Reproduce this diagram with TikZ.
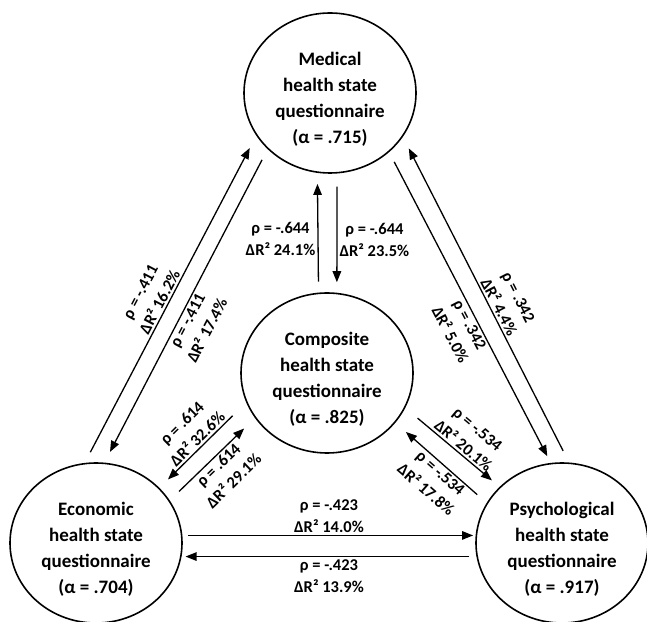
\documentclass[tikz,border=0pt]{standalone}
\usepackage{fontspec}
\setmainfont{Carlito}
\usetikzlibrary{shapes.geometric,arrows.meta}
\begin{document}
\begin{tikzpicture}[x=1pt, y=1pt,
  state/.style={draw=black, line width=1.6pt, ellipse, minimum width=172pt, minimum height=160pt,
       inner sep=0pt, align=center, font=\bfseries\fontsize{19}{26}\selectfont},
  link/.style={draw=black, line width=1.3pt, -{Triangle[length=11pt,width=8.5pt]}},
  stat/.style={align=center, inner sep=2pt, font=\bfseries\fontsize{16.5}{22}\selectfont}]
\useasboundingbox (0,0) rectangle (647,621);
\node[state] (med) at(330, 528) {\rule{0pt}{25pt}Medical\\health state\\questionnaire\\(α = .715)};
\node[state] (comp) at(327, 248) {\rule{0pt}{25pt}Composite\\health state\\questionnaire\\(α = .825)};
\node[state] (eco) at(96, 78) {\rule{0pt}{25pt}Economic\\health state\\questionnaire\\(α = .704)};
\node[state] (psy) at(562, 78) {\rule{0pt}{25pt}Psychological\\health state\\questionnaire\\(α = .917)};
\draw[link, shorten <=11pt, shorten >=11pt] (comp.96) -- (med.261) 
       node[stat, pos=.445, left] {ρ = -.644\\ΔR² 24.1\%};
\draw[link, shorten <=13pt, shorten >=10.5pt] (med.275) -- (comp.83) 
       node[stat, pos=.553, right] {ρ = -.644\\ΔR² 23.5\%};
\draw[link, shorten <=12pt, shorten >=14pt] (eco.98) -- (med.210) 
       node[stat, pos=.48, sloped, above] {ρ = -.411\\ΔR² 16.2\%};
\draw[link, shorten <=12pt, shorten >=12pt] (med.222) -- (eco.84) 
       node[stat, pos=.534, sloped, below] {ρ = -.411\\ΔR² 17.4\%};
\draw[link, shorten <=13pt, shorten >=13pt] (psy.85) -- (med.329) 
       node[stat, pos=.466, sloped, above] {ρ = .342\\ΔR² 4.4\%};
\draw[link, shorten <=11pt, shorten >=7.5pt] (med.315) -- (psy.98) 
       node[stat, pos=.543, sloped, below] {ρ = .342\\ΔR² 5.0\%};
\draw[link, shorten <=19pt, shorten >=12pt] (comp.200) -- (eco.41) 
       node[stat, pos=.495, sloped, above] {ρ = .614\\ΔR² 32.6\%};
\draw[link, shorten <=13pt, shorten >=15pt] (eco.30) -- (comp.212) 
       node[stat, pos=.503, sloped, below] {ρ = .614\\ΔR² 29.1\%};
\draw[link, shorten <=16pt, shorten >=10pt] (comp.336) -- (psy.138) 
       node[stat, pos=.561, sloped, above] {ρ = -.534\\ΔR² 20.1\%};
\draw[link, shorten <=12.5pt, shorten >=14pt] (psy.152) -- (comp.324) 
       node[stat, pos=.447, sloped, below] {ρ = -.534\\ΔR² 17.8\%};
\draw[link, shorten <=6pt, shorten >=2.5pt] (eco.5) -- (psy.175) 
       node[stat, midway, above] {ρ = -.423\\ΔR² 14.0\%};
\draw[link, shorten <=7pt, shorten >=4pt] (psy.189) -- (eco.351) 
       node[stat, midway, below] {ρ = -.423\\ΔR² 13.9\%};
\end{tikzpicture}
\end{document}
